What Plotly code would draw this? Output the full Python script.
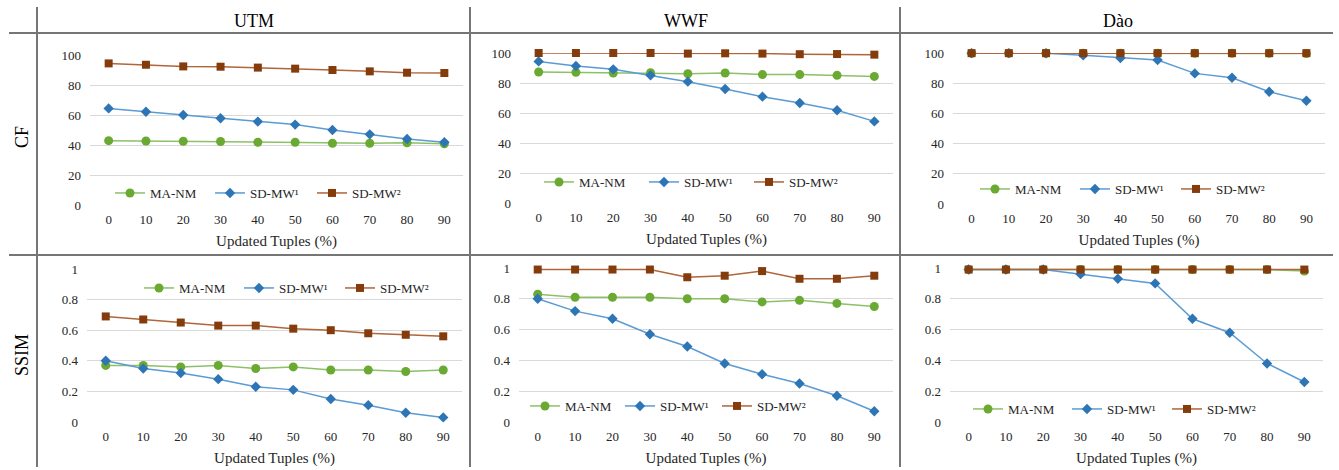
import plotly.graph_objects as go

W, H = 1339, 470

updated = [0, 10, 20, 30, 40, 50, 60, 70, 80, 90]
tick_labels = ["0", "10", "20", "30", "40", "50", "60", "70", "80", "90"]
series_names = ["MA-NM", "SD-MW\u00b9", "SD-MW\u00b2"]
datasets = ["UTM", "WWF", "Dào"]
metrics = ["CF", "SSIM"]

utm_cf_manm = [42.9, 42.7, 42.5, 42.3, 41.8, 41.8, 41.2, 41.2, 41.5, 40.8]
utm_cf_sdmw1 = [64.4, 62.2, 60.0, 57.8, 55.6, 53.6, 50.0, 47.1, 44.0, 41.8]
utm_cf_sdmw2 = [94.4, 93.5, 92.4, 92.2, 91.6, 90.9, 90.0, 89.1, 88.2, 88.0]

wwf_cf_manm = [87.3, 87.1, 86.7, 86.9, 86.2, 86.7, 85.6, 85.6, 85.1, 84.4]
wwf_cf_sdmw1 = [94.4, 91.3, 89.1, 85.1, 80.9, 76.0, 70.9, 66.7, 61.8, 54.4]
wwf_cf_sdmw2 = [100.0, 100.0, 100.0, 100.0, 99.6, 99.8, 99.6, 99.2, 99.3, 98.9]

dao_cf_manm = [99.8, 99.8, 99.8, 99.8, 99.8, 99.8, 99.8, 99.8, 99.8, 99.6]
dao_cf_sdmw1 = [99.9, 99.9, 99.8, 98.5, 96.7, 95.4, 86.5, 83.6, 74.3, 68.4]
dao_cf_sdmw2 = [99.9, 99.9, 99.9, 99.9, 99.9, 99.9, 99.9, 99.9, 99.9, 99.9]

utm_ssim_manm = [0.37, 0.37, 0.36, 0.37, 0.35, 0.36, 0.34, 0.34, 0.33, 0.34]
utm_ssim_sdmw1 = [0.40, 0.35, 0.32, 0.28, 0.23, 0.21, 0.15, 0.11, 0.06, 0.03]
utm_ssim_sdmw2 = [0.69, 0.67, 0.65, 0.63, 0.63, 0.61, 0.60, 0.58, 0.57, 0.56]

wwf_ssim_manm = [0.83, 0.81, 0.81, 0.81, 0.80, 0.80, 0.78, 0.79, 0.77, 0.75]
wwf_ssim_sdmw1 = [0.80, 0.72, 0.67, 0.57, 0.49, 0.38, 0.31, 0.25, 0.17, 0.07]
wwf_ssim_sdmw2 = [0.99, 0.99, 0.99, 0.99, 0.94, 0.95, 0.98, 0.93, 0.93, 0.95]

dao_ssim_manm = [0.99, 0.99, 0.99, 0.99, 0.99, 0.99, 0.99, 0.99, 0.99, 0.98]
dao_ssim_sdmw1 = [0.99, 0.99, 0.99, 0.96, 0.93, 0.90, 0.67, 0.58, 0.38, 0.26]
dao_ssim_sdmw2 = [0.99, 0.99, 0.99, 0.99, 0.99, 0.99, 0.99, 0.99, 0.99, 0.99]

panels = [
    [utm_cf_manm, utm_cf_sdmw1, utm_cf_sdmw2],
    [wwf_cf_manm, wwf_cf_sdmw1, wwf_cf_sdmw2],
    [dao_cf_manm, dao_cf_sdmw1, dao_cf_sdmw2],
    [utm_ssim_manm, utm_ssim_sdmw1, utm_ssim_sdmw2],
    [wwf_ssim_manm, wwf_ssim_sdmw1, wwf_ssim_sdmw2],
    [dao_ssim_manm, dao_ssim_sdmw1, dao_ssim_sdmw2],
]

# pixel boxes of plot areas: (left, right, top, bottom)
boxes = [
    (90, 463, 55, 205),
    (520, 893, 53, 203),
    (953, 1325, 53, 204),
    (87, 462, 269, 422),
    (519, 893, 268, 422),
    (950, 1323, 268, 422),
]
# legend entries: marker centre x px for each series, centre y px
legend_pos = [
    ([130, 230, 332], 193),
    ([559, 664, 769], 182),
    ([995, 1095, 1196], 189),
    ([159, 259, 360], 288),
    ([545, 640, 737], 406),
    ([988, 1087, 1187], 409),
]

line_colors = ["#8cc168", "#5b9bd5", "#b0653a"]
marker_colors = ["#6aa932", "#2e75b6", "#843c0c"]
symbols = ["circle", "diamond", "square"]
msizes = [9, 8, 8]

FONT = "Liberation Serif"
TXT = "#262626"


def fnt(size, color=TXT):
    return dict(family=FONT, size=size, color=color)


def px_x(v):
    return v / W


def px_y(v):
    return 1 - v / H


fig = go.Figure()

layout = dict(
    width=W, height=H,
    margin=dict(l=0, r=0, t=0, b=0, autoexpand=False),
    paper_bgcolor="white", plot_bgcolor="white",
    font=fnt(13),
    showlegend=True,
)

leg_idx = 0
for i, (vals, box, lp) in enumerate(zip(panels, boxes, legend_pos)):
    n = i + 1
    xa = "xaxis" if n == 1 else f"xaxis{n}"
    ya = "yaxis" if n == 1 else f"yaxis{n}"
    xref = "x" if n == 1 else f"x{n}"
    yref = "y" if n == 1 else f"y{n}"
    centers, ly = lp
    for s in range(3):
        leg_idx += 1
        lg = "legend" if leg_idx == 1 else f"legend{leg_idx}"
        fig.add_trace(go.Scatter(
            x=updated, y=vals[s], name=series_names[s],
            mode="lines+markers",
            line=dict(color=line_colors[s], width=1.5),
            marker=dict(symbol=symbols[s], size=msizes[s], color=marker_colors[s],
                        line=dict(width=0)),
            xaxis=xref, yaxis=yref, legend=lg, cliponaxis=False,
        ))
        layout[lg] = dict(
            orientation="h", x=px_x(centers[s] - 20), y=px_y(ly),
            xanchor="left", yanchor="middle",
            bgcolor="rgba(0,0,0,0)", font=fnt(13), itemwidth=30,
            borderwidth=0,
        )
    l, r, t, b = box
    is_cf = i < 3
    layout[xa] = dict(
        domain=[px_x(l), px_x(r)], anchor=yref,
        range=[-5, 95], tickvals=updated, ticktext=tick_labels,
        showgrid=False, zeroline=False, showline=False, ticks="",
        tickfont=fnt(13), ticklabelstandoff=5,
        title=dict(text="Updated Tuples (%)", font=fnt(15), standoff=9),
        fixedrange=True,
    )
    layout[ya] = dict(
        domain=[px_y(b), px_y(t)], anchor=xref,
        range=[0, 100] if is_cf else [0, 1],
        dtick=20 if is_cf else 0.2,
        showgrid=True, gridcolor="#d9d9d9", gridwidth=1.3,
        zeroline=False, showline=False, ticks="",
        tickfont=fnt(13), ticklabelstandoff=8,
        fixedrange=True,
    )

fig.update_layout(**layout)

# table grid lines
grid_col = "#767676"
shapes = []
for xv in [37, 470, 900]:
    shapes.append(dict(type="line", xref="paper", yref="paper",
                       x0=px_x(xv), x1=px_x(xv), y0=px_y(7), y1=px_y(467),
                       line=dict(color=grid_col, width=2)))
for yv in [33, 255]:
    shapes.append(dict(type="line", xref="paper", yref="paper",
                       x0=px_x(9), x1=px_x(1333), y0=px_y(yv), y1=px_y(yv),
                       line=dict(color=grid_col, width=2)))
fig.update_layout(shapes=shapes)

annotations = []
for name, cx in zip(datasets, [254, 686, 1118]):
    annotations.append(dict(text=name, x=px_x(cx), y=px_y(21), xref="paper", yref="paper",
                            showarrow=False, xanchor="center", yanchor="middle",
                            font=fnt(18, "#000000")))
for name, cy in zip(metrics, [137, 355]):
    annotations.append(dict(text=name, x=px_x(22), y=px_y(cy), xref="paper", yref="paper",
                            showarrow=False, xanchor="center", yanchor="middle", textangle=-90,
                            font=fnt(18, "#000000")))
fig.update_layout(annotations=annotations)

fig.write_html(
    "out.html",
    config={"displayModeBar": False},
    post_script="document.body.style.margin='0';document.body.style.padding='0';",
)
